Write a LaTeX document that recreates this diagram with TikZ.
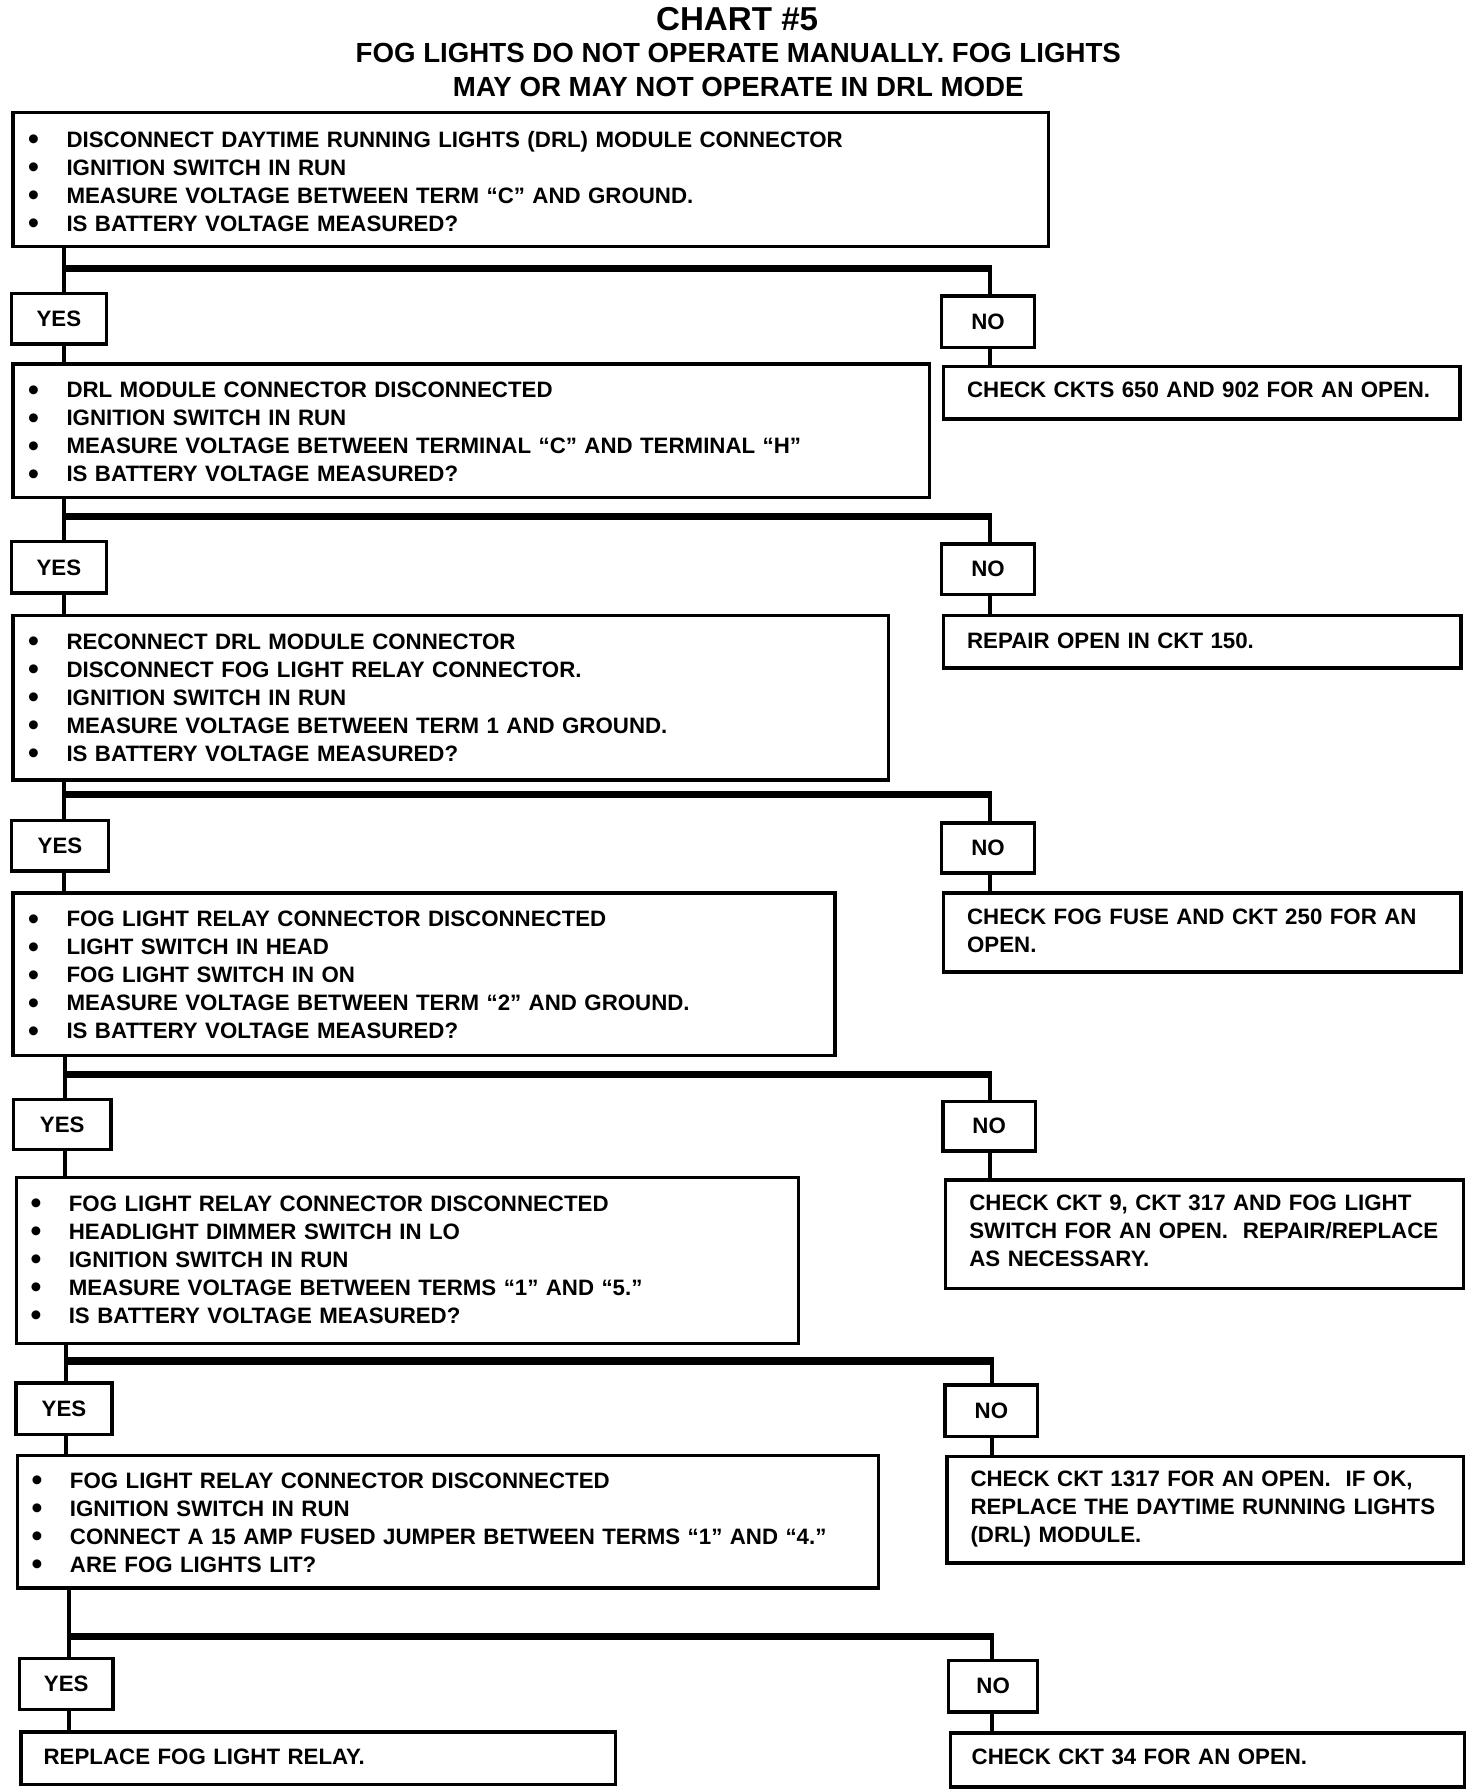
\documentclass[tikz,border=0pt]{standalone}
\usepackage{fontspec}
\setmainfont{Liberation Sans}
\newcommand\bul{\makebox[32pt][l]{\hspace{-1.5pt}\raisebox{-2.2pt}[0pt][0pt]{\fontsize{27}{24.5}\selectfont\textbullet}}}
\newcommand\fbx[6][]{\node[box,#1,minimum width={#4-#2},minimum height={#5-#3}] (#6) at (#2,#3) {};}
\newcommand\ynbox[6]{\node[box,anchor=center,minimum width={#4-#2},minimum height={#5-#3},font=\fontsize{19.5}{24.5}\selectfont\bfseries] (#1) at ({(#2+#4)/2},{(#3+#5)/2}) {#6};}
\begin{document}
\begin{tikzpicture}[x=1pt,y=-1pt,
  box/.style={draw, line width=3pt, inner sep=0pt, anchor=north west},
  lbl/.style={font=\fontsize{19.5}{24.5}\selectfont\bfseries, inner sep=0pt},
  list/.style={lbl, text width=900pt, align=left, anchor=base west},
  conn/.style={line width=3.5pt},
  branchbar/.style={line width=6.5pt}]
\useasboundingbox[fill=white] (0,0) rectangle (1288,1568);

% titles
\node[inner sep=0pt, anchor=base, font=\fontsize{29}{32}\selectfont\bfseries] (title) at (645,26.4) {CHART \#5};
\node[inner sep=0pt, anchor=base, font=\fontsize{24.2}{30}\selectfont\bfseries] (sub1) at (646,54.6) {FOG LIGHTS DO NOT OPERATE MANUALLY. FOG LIGHTS};
\node[inner sep=0pt, anchor=base, font=\fontsize{24.2}{30}\selectfont\bfseries] (sub2) at (646,84.6) {MAY OR MAY NOT OPERATE IN DRL MODE};

% question boxes
\fbx{10}{97}{916}{214}{q1}
\fbx{10}{317}{812}{434}{q2}
\fbx{10}{537}{776}{681}{q3}
\fbx{10}{780}{729}{922}{q4}
\fbx{13}{1029}{697}{1174}{q5}
\fbx{14}{1272}{767}{1388}{q6}

\node[list] (q1t) at (26,129) {\bul DISCONNECT DAYTIME RUNNING LIGHTS (DRL) MODULE CONNECTOR\\
\bul IGNITION SWITCH IN RUN\\
\bul MEASURE VOLTAGE BETWEEN TERM “C” AND GROUND.\\
\bul IS BATTERY VOLTAGE MEASURED?};
\node[list] (q2t) at (26,348) {\bul DRL MODULE CONNECTOR DISCONNECTED\\
\bul IGNITION SWITCH IN RUN\\
\bul MEASURE VOLTAGE BETWEEN TERMINAL “C” AND TERMINAL “H”\\
\bul IS BATTERY VOLTAGE MEASURED?};
\node[list] (q3t) at (26,568) {\bul RECONNECT DRL MODULE CONNECTOR\\
\bul DISCONNECT FOG LIGHT RELAY CONNECTOR.\\
\bul IGNITION SWITCH IN RUN\\
\bul MEASURE VOLTAGE BETWEEN TERM 1 AND GROUND.\\
\bul IS BATTERY VOLTAGE MEASURED?};
\node[list] (q4t) at (26,811) {\bul FOG LIGHT RELAY CONNECTOR DISCONNECTED\\
\bul LIGHT SWITCH IN HEAD\\
\bul FOG LIGHT SWITCH IN ON\\
\bul MEASURE VOLTAGE BETWEEN TERM “2” AND GROUND.\\
\bul IS BATTERY VOLTAGE MEASURED?};
\node[list] (q5t) at (28,1060) {\bul FOG LIGHT RELAY CONNECTOR DISCONNECTED\\
\bul HEADLIGHT DIMMER SWITCH IN LO\\
\bul IGNITION SWITCH IN RUN\\
\bul MEASURE VOLTAGE BETWEEN TERMS “1” AND “5.”\\
\bul IS BATTERY VOLTAGE MEASURED?};
\node[list] (q6t) at (29,1302) {\bul FOG LIGHT RELAY CONNECTOR DISCONNECTED\\
\bul IGNITION SWITCH IN RUN\\
\bul CONNECT A 15 AMP FUSED JUMPER BETWEEN TERMS “1” AND “4.”\\
\bul ARE FOG LIGHTS LIT?};

% YES / NO boxes
\ynbox{y1}{10}{257}{93}{301}{YES}
\ynbox{n1}{824}{259}{905}{304}{NO}
\ynbox{y2}{10}{474}{93}{519}{YES}
\ynbox{n2}{824}{476}{905}{520}{NO}
\ynbox{y3}{10}{718}{95}{762}{YES}
\ynbox{n3}{824}{720}{905}{764}{NO}
\ynbox{y4}{12}{962}{97}{1006}{YES}
\ynbox{n4}{825}{964}{906}{1007}{NO}
\ynbox{y5}{14}{1210}{98}{1255}{YES}
\ynbox{n5}{827}{1212}{908}{1257}{NO}
\ynbox{y6}{17}{1451}{99}{1496}{YES}
\ynbox{n6}{830}{1453}{908}{1498}{NO}

% answer boxes
\fbx{824}{319}{1276}{365}{a1}
\fbx{824}{537}{1277}{583}{a2}
\fbx{824}{780}{1277}{849}{a3}
\fbx{826}{1031}{1279}{1126}{a4}
\fbx{827}{1273}{1279}{1366}{a5}
\fbx{830}{1515}{1280}{1562}{a6}
\fbx{17}{1514}{537}{1560}{f1}

\node[list] (a1t) at (846,348) {CHECK CKTS 650 AND 902 FOR AN OPEN.};
\node[list] (a2t) at (846,567) {REPAIR OPEN IN CKT 150.};
\node[list] (a3t) at (846,809) {CHECK FOG FUSE AND CKT 250 FOR AN\\ OPEN.};
\node[list] (a4t) at (848,1059) {CHECK CKT 9, CKT 317 AND FOG LIGHT\\ SWITCH FOR AN OPEN.\ \ REPAIR/REPLACE\\ AS NECESSARY.};
\node[list] (a5t) at (849,1301) {CHECK CKT 1317 FOR AN OPEN.\ \ IF OK,\\ REPLACE THE DAYTIME RUNNING LIGHTS\\ (DRL) MODULE.};
\node[list] (a6t) at (850,1544) {CHECK CKT 34 FOR AN OPEN.};
\node[list] (f1t) at (38,1544) {REPLACE FOG LIGHT RELAY.};

% branch junctions
\coordinate (L1) at (56,235);   \coordinate (R1) at (866,235);
\coordinate (L2) at (56,452);   \coordinate (R2) at (866,452);
\coordinate (L3) at (56,695);   \coordinate (R3) at (866,695);
\coordinate (L4) at (57,940);   \coordinate (R4) at (866,940);
\coordinate (L5) at (58,1191);  \coordinate (R5) at (868,1191);
\coordinate (L6) at (60,1432);  \coordinate (R6) at (868,1432);

% connectors
\foreach \i/\q/\nq/\a in {1/q1/q2/a1,2/q2/q3/a2,3/q3/q4/a3,4/q4/q5/a4,5/q5/q6/a5,6/q6/f1/a6}{
  \draw[conn] (\q.south -| L\i) -- (y\i.north -| L\i);
  \draw[branchbar] ([xshift=-1.75pt]L\i) -- ([xshift=1.75pt]R\i);
  \draw[conn] ([yshift=3pt]R\i) -- (n\i.north -| R\i);
  \draw[conn] (y\i.south -| L\i) -- (\nq.north -| L\i);
  \draw[conn] (n\i.south -| R\i) -- (\a.north -| R\i);
}
\end{tikzpicture}
\end{document}
